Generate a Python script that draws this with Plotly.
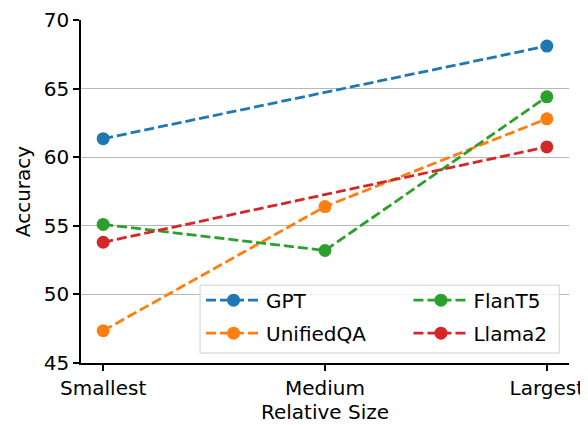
import plotly.graph_objects as go

sizes = ["Smallest", "Medium", "Largest"]
gpt = [61.35, None, 68.1]
unifiedqa = [47.35, 56.4, 62.8]
flant5 = [55.1, 53.2, 64.4]
llama2 = [53.8, None, 60.75]

series = [
    ("GPT", gpt, "#1f77b4", "legend"),
    ("UnifiedQA", unifiedqa, "#ff7f0e", "legend"),
    ("FlanT5", flant5, "#2ca02c", "legend2"),
    ("Llama2", llama2, "#d62728", "legend2"),
]

fig = go.Figure()
for name, vals, color, leg in series:
    fig.add_trace(go.Scatter(
        x=sizes, y=vals, name=name, mode="lines+markers",
        connectgaps=True, legend=leg, legendgroup=name,
        line=dict(color=color, width=2.8, dash="10px,4px"),
        marker=dict(color=color, size=13),
    ))

font = "DejaVu Sans"
leg_common = dict(
    orientation="v", yanchor="top", xanchor="left",
    itemwidth=55, bgcolor="rgba(0,0,0,0)", borderwidth=0,
    font=dict(family=font, size=20), tracegroupgap=4,
)
fig.update_layout(
    width=580, height=417,
    margin=dict(l=73, r=19, t=12, b=62, autoexpand=False),
    paper_bgcolor="white", plot_bgcolor="white",
    font=dict(family=font, size=20, color="black"),
    showlegend=True,
    legend=dict(x=0.246, y=0.240, **leg_common),
    legend2=dict(x=0.671, y=0.240, **leg_common),
    shapes=[dict(
        type="rect", xref="paper", yref="paper",
        x0=0.244, x1=0.98, y0=0.029, y1=0.227,
        fillcolor="rgba(255,255,255,0.8)",
        line=dict(color="#d0d0d0", width=1), layer="above",
    )],
    xaxis=dict(
        title=dict(text="Relative Size", font=dict(size=20), standoff=6),
        range=[-0.1, 2.1], type="category",
        showline=True, linecolor="black", linewidth=1.5,
        ticks="outside", ticklen=6, tickwidth=1.5, tickcolor="black",
        showgrid=False, zeroline=False, tickfont=dict(size=20),
    ),
    yaxis=dict(
        title=dict(text="Accuracy", font=dict(size=20), standoff=8),
        range=[45, 70], tickvals=[45, 50, 55, 60, 65, 70],
        showline=True, linecolor="black", linewidth=1.5,
        ticks="outside", ticklen=6, tickwidth=1.5, tickcolor="black",
        showgrid=True, gridcolor="#b8b8b8", gridwidth=1, zeroline=False,
        tickfont=dict(size=20),
    ),
)

fig.write_html("out.html")
